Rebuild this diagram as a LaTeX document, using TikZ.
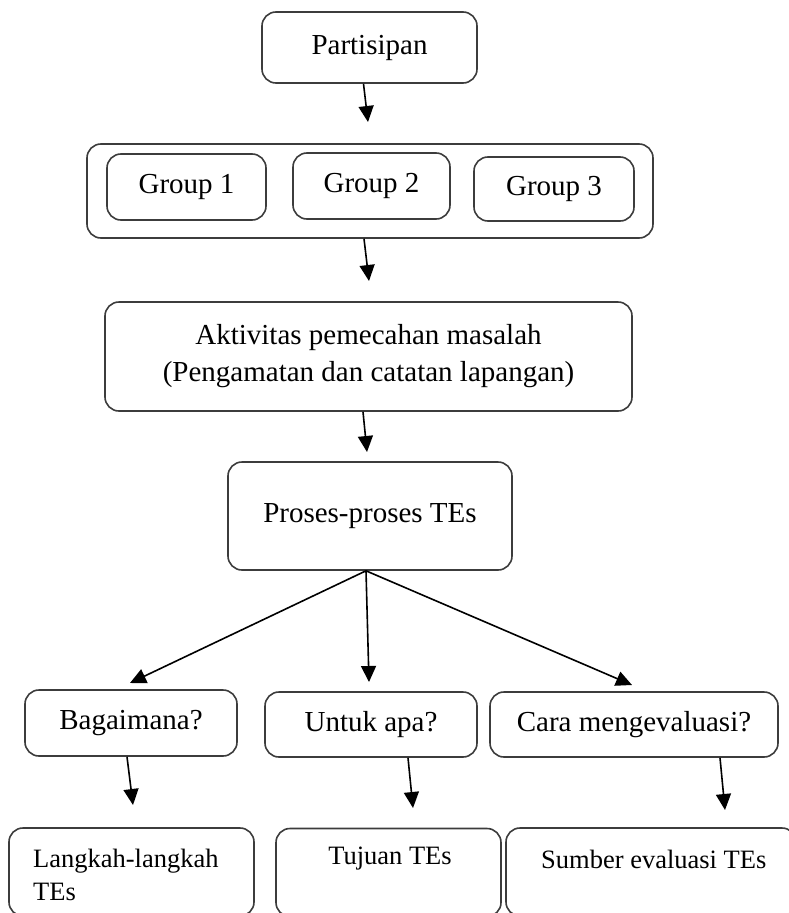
\documentclass[tikz,border=0pt]{standalone}
\usepackage{fontspec}
\setmainfont{Liberation Serif}
\usetikzlibrary{arrows.meta}
\definecolor{boxgray}{HTML}{3C3C3C}
\tikzset{
  box/.style={draw=boxgray, line width=1.6pt, rounded corners=14pt, inner sep=0pt,
    font=\fontsize{29}{37}\selectfont, align=center},
  smalltext/.style={inner sep=0pt, font=\fontsize{26.5}{33}\selectfont},
  arr/.style={line width=1.6pt, -{Triangle[length=16pt,width=15pt]}},
}
\begin{document}
\begin{tikzpicture}[x=1pt,y=-1pt]
\useasboundingbox (0,0) rectangle (789,913);
\clip (0,0) rectangle (789,913);

% top
\node[box, minimum width=215pt, minimum height=71pt] (p) at (369.5,47.5) {Partisipan};

% groups
\node[box, minimum width=566pt, minimum height=94pt] (grp) at (370,191) {};
\node[box, minimum width=159pt, minimum height=66pt] (g1) at (186.5,187) {Group 1};
\node[box, minimum width=157pt, minimum height=66pt] (g2) at (371.5,186) {Group 2};
\node[box, minimum width=160pt, minimum height=64pt] (g3) at (554,189) {Group 3};

% activity
\node[box, minimum width=527pt, minimum height=109pt] (akt) at (368.5,356.5)
  {Aktivitas pemecahan masalah\\(Pengamatan dan catatan lapangan)};

% process
\node[box, minimum width=284pt, minimum height=108pt] (pr) at (370,516) {Proses-proses TEs};

% questions
\node[box, minimum width=212pt, minimum height=66pt] (q1) at (131,723) {Bagaimana?};
\node[box, minimum width=212pt, minimum height=65pt] (q2) at (371,724.5) {Untuk apa?};
\node[box, minimum width=288pt, minimum height=65pt] (q3) at (634,724.5) {Cara mengevaluasi?};

% bottom boxes
\node[box, minimum width=245pt, minimum height=88pt] (r1) at (131.5,872) {};
\node[box, minimum width=225pt, minimum height=88pt] (r2) at (388.5,872.5) {};
\node[box, minimum width=290pt, minimum height=88pt] (r3) at (651,872) {};
\node[smalltext, anchor=west, align=left] (r1t) at (33,875) {Langkah-langkah\\TEs};
\node[smalltext] (r2t) at (390,859) {Tujuan TEs};
\node[smalltext, anchor=west] (r3t) at (541,859) {Sumber evaluasi TEs};

% arrow tips
\coordinate (t1) at (368,122);
\coordinate (t2) at (369,281);
\coordinate (t3) at (367,452);
\coordinate (f1) at (130,683);
\coordinate (f2) at (369,682);
\coordinate (f3) at (632,685);
\coordinate (d1) at (133,805);
\coordinate (d2) at (413,808);
\coordinate (d3) at (725,810);

\draw[arr] ([xshift=-6pt]p.south) -- (t1);
\draw[arr] ([xshift=-6pt]grp.south) -- (t2);
\draw[arr] ([xshift=-5.5pt]akt.south) -- (t3);
\draw[arr] ([xshift=-4pt]pr.south) -- (f1);
\draw[arr] ([xshift=-4pt]pr.south) -- (f2);
\draw[arr] ([xshift=-4pt]pr.south) -- (f3);
\draw[arr] ([xshift=-4pt]q1.south) -- (d1);
\draw[arr] ([xshift=37pt]q2.south) -- (d2);
\draw[arr] ([xshift=86pt]q3.south) -- (d3);
\end{tikzpicture}
\end{document}
